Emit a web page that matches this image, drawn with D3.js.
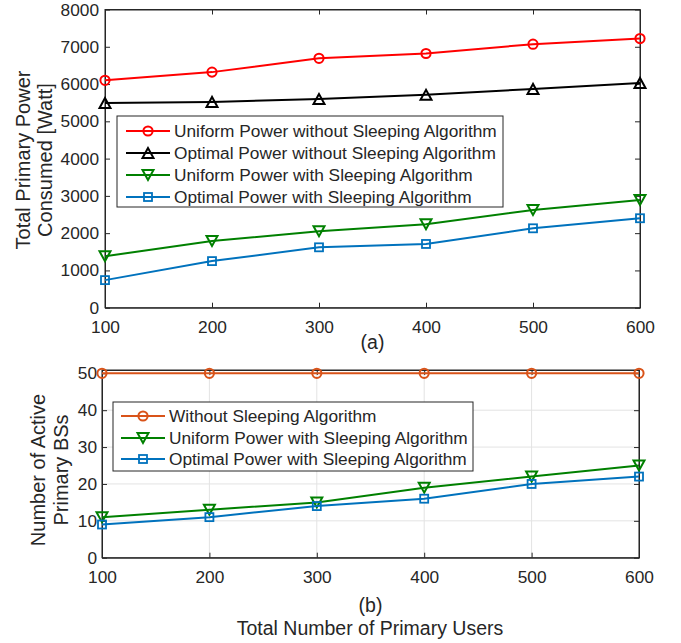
<!DOCTYPE html>
<html><head><meta charset="utf-8">
<script src="https://cdn.jsdelivr.net/npm/d3@7"></script>
<style>
body{margin:0;background:#fff;}
svg text{font-family:"Liberation Sans",Arial,Helvetica,sans-serif;fill:#262626;}
</style></head>
<body><svg id="c" width="681" height="643"></svg>
<script>
// ---- Data ----
const users = [100, 200, 300, 400, 500, 600];
// (a) Total primary power consumed [Watt]
const powerUniformNoSleep = [6100, 6320, 6690, 6820, 7070, 7220];
const powerOptimalNoSleep = [5490, 5520, 5600, 5710, 5870, 6030];
const powerUniformSleep   = [1380, 1790, 2050, 2240, 2620, 2890];
const powerOptimalSleep   = [740, 1250, 1620, 1710, 2130, 2400];
// (b) Number of active primary BSs
const bsNoSleep      = [50, 50, 50, 50, 50, 50];
const bsUniformSleep = [11, 13, 15, 19, 22, 25];
const bsOptimalSleep = [9, 11, 14, 16, 20, 22];
const xTicks = [100, 200, 300, 400, 500, 600];
const yTicksA = [0, 1000, 2000, 3000, 4000, 5000, 6000, 7000, 8000];
const yTicksB = [0, 10, 20, 30, 40, 50];

const seriesA = [
  {name: "Uniform Power without Sleeping Algorithm", values: powerUniformNoSleep, color: "#ff0000", marker: "circle"},
  {name: "Optimal Power without Sleeping Algorithm", values: powerOptimalNoSleep, color: "#000000", marker: "tri-up"},
  {name: "Uniform Power with Sleeping Algorithm", values: powerUniformSleep, color: "#008000", marker: "tri-down"},
  {name: "Optimal Power with Sleeping Algorithm", values: powerOptimalSleep, color: "#0072BD", marker: "square"}
];
const seriesB = [
  {name: "Without Sleeping Algorithm", values: bsNoSleep, color: "#D95319", marker: "circle"},
  {name: "Uniform Power with Sleeping Algorithm", values: bsUniformSleep, color: "#008000", marker: "tri-down"},
  {name: "Optimal Power with Sleeping Algorithm", values: bsOptimalSleep, color: "#0072BD", marker: "square"}
];

const svg = d3.select("#c");
const FS = 17.3;
const LFS = 20;
const CFS = 19.5;
const fmt = d3.format("d");

function drawMarker(g, type, x, y, color) {
  if (type === "circle") {
    g.append("circle").attr("cx", x).attr("cy", y).attr("r", 4.6)
      .attr("fill", "none").attr("stroke", color).attr("stroke-width", 2);
  } else if (type === "square") {
    g.append("rect").attr("x", x - 4).attr("y", y - 4).attr("width", 8).attr("height", 8)
      .attr("fill", "none").attr("stroke", color).attr("stroke-width", 1.8);
  } else {
    const s = type === "tri-up" ? -1 : 1;
    const h = 5;
    const pts = [[x, y + s * h], [x - 5.5, y - s * h], [x + 5.5, y - s * h]];
    g.append("path").attr("d", "M" + pts.map(p => p.join(",")).join("L") + "Z")
      .attr("fill", "none").attr("stroke", color).attr("stroke-width", 2);
  }
}

function panel(cfg) {
  const {x0, x1, yTop, yBot, yDomain, yTicks, series, grid, legend, ylabel, ylabelX, ylabelCY,
         caption, captionY, xPad, yPad} = cfg;
  const x = d3.scaleLinear().domain([100, 600]).range([x0, x1]);
  const y = d3.scaleLinear().domain(yDomain).range([yBot, yTop]);
  const g = svg.append("g");

  if (grid) {
    const gg = g.append("g");
    xTicks.forEach(t => gg.append("line").attr("x1", x(t)).attr("x2", x(t)).attr("y1", yTop).attr("y2", yBot)
      .attr("stroke", "#e3e3e3").attr("stroke-width", 1));
    yTicks.forEach(t => gg.append("line").attr("x1", x0).attr("x2", x1).attr("y1", y(t)).attr("y2", y(t))
      .attr("stroke", "#e3e3e3").attr("stroke-width", 1));
  }

  // axes
  const ax = g.append("g").attr("transform", `translate(0,${yBot})`)
    .call(d3.axisBottom(x).tickValues(xTicks).tickFormat(fmt).tickSizeInner(-5).tickSizeOuter(0).tickPadding(xPad));
  const axT = g.append("g").attr("transform", `translate(0,${yTop})`)
    .call(d3.axisTop(x).tickValues(xTicks).tickSizeInner(-5).tickSizeOuter(0).tickFormat(""));
  const ay = g.append("g").attr("transform", `translate(${x0},0)`)
    .call(d3.axisLeft(y).tickValues(yTicks).tickFormat(fmt).tickSizeInner(-5).tickSizeOuter(0).tickPadding(yPad));
  const ayR = g.append("g").attr("transform", `translate(${x1},0)`)
    .call(d3.axisRight(y).tickValues(yTicks).tickSizeInner(-5).tickSizeOuter(0).tickFormat(""));
  [ax, axT, ay, ayR].forEach(a => {
    a.selectAll("path").attr("stroke", "#262626").attr("stroke-width", 1);
    a.selectAll("line").attr("stroke", "#262626").attr("stroke-width", 1);
    a.selectAll("text").attr("font-size", FS).attr("fill", "#262626");
  });
  // ensure full box
  g.append("rect").attr("x", x0).attr("y", yTop).attr("width", x1 - x0).attr("height", yBot - yTop)
    .attr("fill", "none").attr("stroke", "#262626").attr("stroke-width", 1);

  const line = d3.line().x((d, i) => x(users[i])).y(d => y(d));
  series.forEach(s => {
    g.append("path").attr("d", line(s.values)).attr("fill", "none")
      .attr("stroke", s.color).attr("stroke-width", 2);
    s.values.forEach((v, i) => drawMarker(g, s.marker, x(users[i]), y(v), s.color));
  });

  // legend
  const lg = g.append("g");
  lg.append("rect").attr("x", legend.x).attr("y", legend.y).attr("width", legend.w).attr("height", legend.h)
    .attr("fill", "#fff").attr("stroke", "#262626").attr("stroke-width", 1);
  series.forEach((s, i) => {
    const yy = legend.rowY[i];
    lg.append("line").attr("x1", legend.lx0).attr("x2", legend.lx1).attr("y1", yy).attr("y2", yy)
      .attr("stroke", s.color).attr("stroke-width", 2);
    drawMarker(lg, s.marker, (legend.lx0 + legend.lx1) / 2, yy, s.color);
    lg.append("text").attr("x", legend.tx).attr("y", yy).attr("dy", "0.35em")
      .attr("font-size", FS).text(s.name);
  });

  // y label (two lines)
  ylabel.forEach((t, i) => {
    g.append("text").attr("transform", `translate(${ylabelX[i]},${ylabelCY}) rotate(-90)`)
      .attr("text-anchor", "middle").attr("font-size", LFS).text(t);
  });
  g.append("text").attr("x", (x0 + x1) / 2).attr("y", captionY).attr("text-anchor", "middle")
    .attr("dy", "0.35em").attr("font-size", CFS).text(caption);
}

panel({
  x0: 105, x1: 640, yTop: 9.5, yBot: 307.7, yDomain: [0, 8000], yTicks: yTicksA,
  series: seriesA, grid: false, xPad: 13, yPad: 6,
  legend: {x: 117, y: 116, w: 386, h: 91, rowY: [131, 153, 175, 197], lx0: 126, lx1: 170, tx: 174},
  ylabel: ["Total Primary Power", "Consumed [Watt]"], ylabelX: [29.5, 52], ylabelCY: 160,
  caption: "(a)", captionY: 342
});

panel({
  x0: 102, x1: 639, yTop: 370, yBot: 557.7, yDomain: [0, 50.9], yTicks: yTicksB,
  series: seriesB, grid: true, xPad: 13, yPad: 5,
  legend: {x: 113, y: 402, w: 360, h: 69, rowY: [416, 438, 459], lx0: 121, lx1: 165, tx: 169},
  ylabel: ["Number of Active", "Primary BSs"], ylabelX: [44.5, 67.5], ylabelCY: 470,
  caption: "(b)", captionY: 605
});

svg.append("text").attr("x", 370).attr("y", 628).attr("dy", "0.35em").attr("text-anchor", "middle")
  .attr("font-size", CFS).text("Total Number of Primary Users");
</script></body></html>
